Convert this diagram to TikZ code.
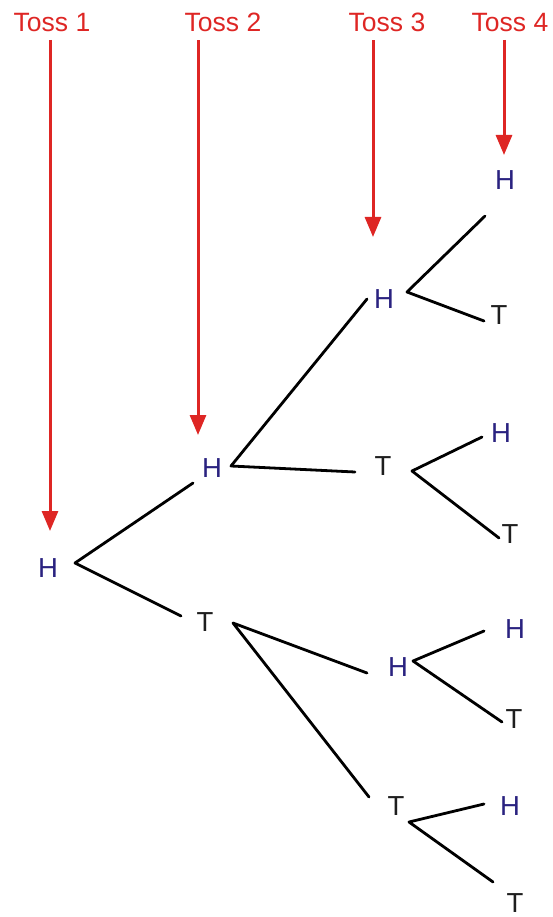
\documentclass[tikz,border=0pt]{standalone}
\usepackage{fontspec}
\setmainfont{Liberation Sans}
\usetikzlibrary{arrows.meta}
\definecolor{tossred}{RGB}{222,38,36}
\definecolor{headblue}{RGB}{42,34,128}
\definecolor{tailblack}{RGB}{30,30,30}
\tikzset{
  lbl/.style={inner sep=0pt, font=\fontsize{27.5}{31}\selectfont},
  tosslbl/.style={inner sep=0pt, font=\fontsize{26.5}{30}\selectfont, text=tossred},
  hd/.style={lbl, text=headblue},
  tl/.style={lbl, text=tailblack},
  tossarrow/.style={draw=tossred, line width=3pt, shorten <=8pt,
    -{Triangle[length=20pt,width=16pt]}},
  branch/.style={draw=black, line width=2.8pt, line cap=round, line join=round}
}
\begin{document}
\begin{tikzpicture}[x=1pt,y=-1pt]
\useasboundingbox (0,0) rectangle (553,917);
% toss labels
\node[tosslbl] (t1) at (52,22.5) {Toss 1};
\node[tosslbl] (t2) at (223,22.5) {Toss 2};
\node[tosslbl] (t3) at (387,22.5) {Toss 3};
\node[tosslbl] (t4) at (510,22.5) {Toss 4};
% arrow tips
\coordinate (a1) at (50,531);
\coordinate (a2) at (198,435);
\coordinate (a3) at (373,237);
\coordinate (a4) at (504,155);
\draw[tossarrow] (t1.south -| a1) -- (a1);
\draw[tossarrow] (t2.south -| a2) -- (a2);
\draw[tossarrow] (t3.south -| a3) -- (a3);
\draw[tossarrow] (t4.south -| a4) -- (a4);
% outcome nodes
\node[hd] (n1) at (48,568) {H};
\node[hd] (n2h) at (212,468) {H};
\node[tl] (n2t) at (205,622) {T};
\node[hd] (n3a) at (384,299) {H};
\node[tl] (n3b) at (383,466) {T};
\node[hd] (n3c) at (398,667) {H};
\node[tl] (n3d) at (396,806) {T};
\node[hd] (n4a) at (505,180) {H};
\node[tl] (n4b) at (499,315) {T};
\node[hd] (n4c) at (501,433) {H};
\node[tl] (n4d) at (510,534) {T};
\node[hd] (n4e) at (515,629) {H};
\node[tl] (n4f) at (514,719) {T};
\node[hd] (n4g) at (510,806) {H};
\node[tl] (n4h) at (515,903) {T};
% branch vertices and ends
\coordinate (v1) at (75,563);
\coordinate (e1u) at (193,483);
\coordinate (e1d) at (181,616);
\coordinate (v2h) at (231,466);
\coordinate (e2hu) at (367,299);
\coordinate (e2hd) at (355,472);
\coordinate (v2t) at (233,623);
\coordinate (e2tu) at (367,673);
\coordinate (e2td) at (369,797);
\coordinate (v3a) at (407,292);
\coordinate (e3au) at (485,216);
\coordinate (e3ad) at (484,321);
\coordinate (v3b) at (412,471);
\coordinate (e3bu) at (482,437);
\coordinate (e3bd) at (499,538);
\coordinate (v3c) at (413,661);
\coordinate (e3cu) at (484,631);
\coordinate (e3cd) at (502,722);
\coordinate (v3d) at (409,822);
\coordinate (e3du) at (484,804);
\coordinate (e3dd) at (493,882);
\draw[branch] (e1u) -- (v1) -- (e1d);
\draw[branch] (e2hu) -- (v2h) -- (e2hd);
\draw[branch] (e2tu) -- (v2t) -- (e2td);
\draw[branch] (e3au) -- (v3a) -- (e3ad);
\draw[branch] (e3bu) -- (v3b) -- (e3bd);
\draw[branch] (e3cu) -- (v3c) -- (e3cd);
\draw[branch] (e3du) -- (v3d) -- (e3dd);
\end{tikzpicture}
\end{document}
